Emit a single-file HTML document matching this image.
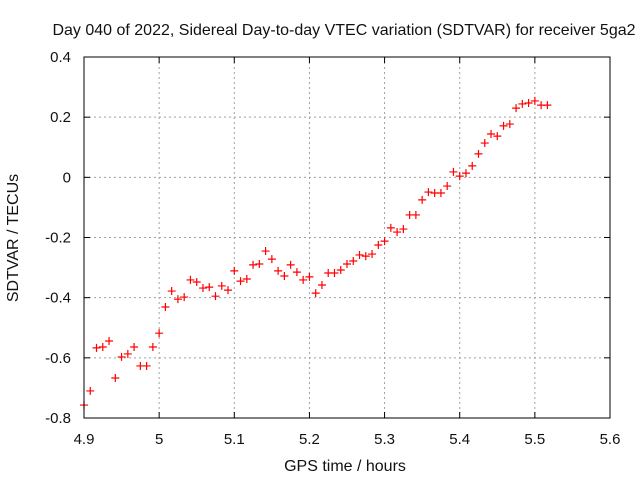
<!DOCTYPE html>
<html><head><meta charset="utf-8"><style>body{margin:0;background:#fff}svg{display:block}text{font-family:"Liberation Sans",sans-serif;font-size:15px;fill:#111}</style></head>
<body>
<svg id="chart" width="640" height="480">
<text x="344" y="35" text-anchor="middle" style="font-size:16px">Day 040 of 2022, Sidereal Day-to-day VTEC variation (SDTVAR) for receiver 5ga2</text>
<text x="0" y="0" transform="translate(18,238) rotate(-90)" text-anchor="middle" style="font-size:16px">SDTVAR / TECUs</text>
<text x="345" y="471" text-anchor="middle" style="font-size:16px">GPS time / hours</text>
<g id="grid"></g><g id="ticks"></g><g id="marks"></g>
<rect x="84" y="57" width="526" height="361" fill="none" stroke="#000" stroke-width="1"/>
</svg>
<script>
const xTicks=[4.9,5,5.1,5.2,5.3,5.4,5.5,5.6];
const xTickLabels=["4.9","5","5.1","5.2","5.3","5.4","5.5","5.6"];
const yTicks=[0.4,0.2,0,-0.2,-0.4,-0.6,-0.8];
const yTickLabels=["0.4","0.2","0","-0.2","-0.4","-0.6","-0.8"];
const xStart=4.9, xStep=1/120;
const sdtvar=[-0.757,-0.710,-0.567,-0.564,-0.544,-0.667,-0.597,-0.587,-0.564,-0.627,-0.627,-0.564,-0.518,-0.431,-0.378,-0.405,-0.398,-0.341,-0.348,-0.368,-0.365,-0.395,-0.361,-0.375,-0.311,-0.345,-0.338,-0.291,-0.288,-0.245,-0.272,-0.311,-0.328,-0.291,-0.315,-0.341,-0.331,-0.385,-0.358,-0.318,-0.318,-0.308,-0.288,-0.278,-0.258,-0.262,-0.255,-0.225,-0.212,-0.168,-0.182,-0.172,-0.125,-0.125,-0.075,-0.049,-0.052,-0.052,-0.029,0.018,0.004,0.014,0.038,0.078,0.114,0.144,0.137,0.171,0.177,0.230,0.244,0.247,0.254,0.240,0.240];
const NS="http://www.w3.org/2000/svg";
const X=v=>84+(v-4.9)/0.7*526;
const Y=v=>57+(0.4-v)/1.2*361;
function mk(t,a,p){const e=document.createElementNS(NS,t);for(const k in a)e.setAttribute(k,a[k]);p.appendChild(e);return e;}
const grid=document.getElementById('grid'),ticks=document.getElementById('ticks'),marks=document.getElementById('marks');
xTicks.forEach((v,i)=>{const x=X(v);
 if(i>0&&i<xTicks.length-1){const g=mk('line',{x1:x,x2:x,y1:57,y2:418,stroke:'#a0a0a0','stroke-dasharray':'2,3'},grid);
 
 }
 mk('line',{x1:x,x2:x,y1:418,y2:412,stroke:'#000'},ticks);mk('line',{x1:x,x2:x,y1:57,y2:63,stroke:'#000'},ticks);
 const t=mk('text',{x:x,y:444,'text-anchor':'middle'},ticks);t.textContent=xTickLabels[i];
 
 });
yTicks.forEach((v,i)=>{const y=Y(v);
 if(i>0&&i<yTicks.length-1){const g=mk('line',{x1:84,x2:610,y1:y,y2:y,stroke:'#a0a0a0','stroke-dasharray':'2,3'},grid);
 
 }
 mk('line',{x1:84,x2:90,y1:y,y2:y,stroke:'#000'},ticks);mk('line',{x1:604,x2:610,y1:y,y2:y,stroke:'#000'},ticks);
 const t=mk('text',{x:71,y:y+5,'text-anchor':'end'},ticks);t.textContent=yTickLabels[i];
 
 });
sdtvar.forEach((v,i)=>{const x=X(xStart+i*xStep),y=Y(v);
 const p=mk('path',{d:`M${x-4},${y}H${x+4}M${x},${y-4}V${y+4}`,stroke:'#f00','stroke-width':1.2},marks);
 
 });
</script>
</body></html>
